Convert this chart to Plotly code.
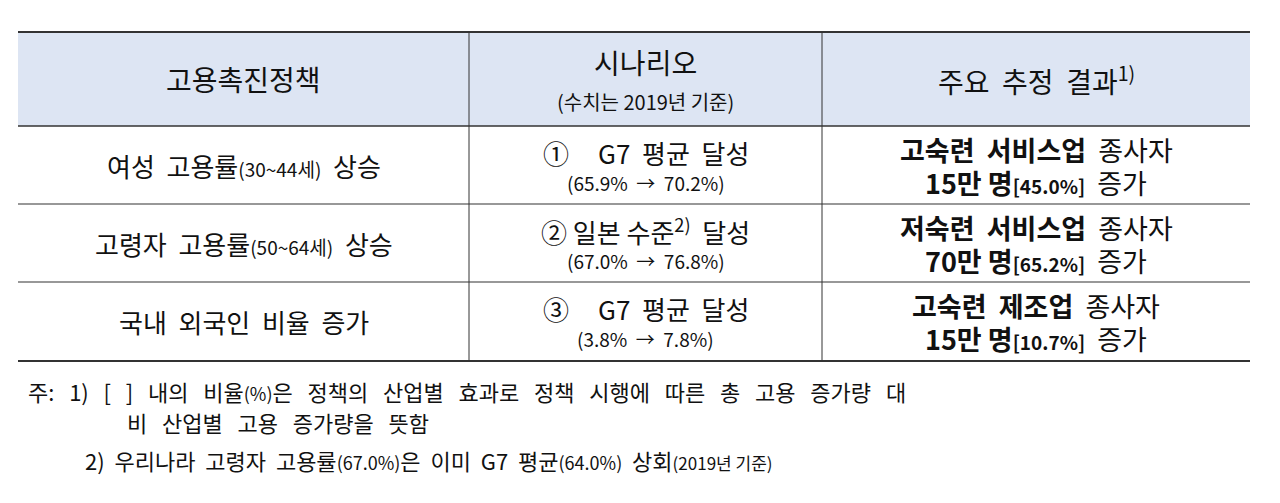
import plotly.graph_objects as go

S = "&nbsp;"
headers = ["고용촉진정책", "시나리오<br><span style='font-size:20px'>(수치는 2019년 기준)</span>",
           "주요  추정  결과<sup>1)</sup>"]
policies = ["여성  고용률<span style='font-size:19px'>(30~44세)</span>  상승",
            "고령자  고용률<span style='font-size:19px'>(50~64세)</span>  상승",
            "국내  외국인  비율  증가"]
scenarios = ["①" + S*5 + "G7" + S*2 + "평균" + S*2 + "달성",
             "② 일본 수준<sup>2)</sup>" + S*2 + "달성",
             "③" + S*5 + "G7" + S*2 + "평균" + S*2 + "달성"]
scenario_vals = ["(65.9%  →  70.2%)", "(67.0%  →  76.8%)", "(3.8%  →  7.8%)"]
results_l1 = ["<b>고숙련" + S*2 + "서비스업</b>" + S*2 + "종사자",
              "<b>저숙련" + S*2 + "서비스업</b>" + S*2 + "종사자",
              "<b>고숙련" + S*2 + "제조업</b>" + S*2 + "종사자"]
results_amt = ["15만 명", "70만 명", "15만 명"]
results_pct = ["[45.0%]", "[65.2%]", "[10.7%]"]
G = S * 3
notes = [G.join(["주:", "1)", "[", "]", "내의", "비율<span style='font-size:18px'>(%)</span>은", "정책의", "산업별", "효과로",
                 "정책", "시행에", "따른", "총", "고용", "증가량", "대"]),
         G.join(["비", "산업별", "고용", "증가량을", "뜻함"]),
         (S*2).join(["2)", "우리나라", "고령자", "고용률<span style='font-size:18px'>(67.0%)</span>은", "이미", "G7",
                     "평균<span style='font-size:18px'>(64.0%)</span>", "상회<span style='font-size:17px'>(2019년 기준)</span>"])]

F = "Noto Sans CJK KR"
o = 8
x0, x1, x2, x3 = 18 - o, 469 - o, 822 - o, 1250 - o
yh0, yh1 = 32 - o, 126 - o
rows = [126 - o, 204 - o, 282 - o, 361 - o]
cx = [(x0 + x1) / 2, (x1 + x2) / 2, (x2 + x3) / 2]

fig = go.Figure()
shapes = [dict(type="rect", x0=x0, x1=x3, y0=yh0, y1=yh1, fillcolor="#dde5f3", line_width=0, layer="below")]
for y, w in [(yh0, 2), (yh1, 1.5), (rows[1], 1.2), (rows[2], 1.2), (rows[3], 2)]:
    shapes.append(dict(type="line", x0=x0, x1=x3, y0=y, y1=y, line=dict(color="#333", width=w)))
for x in [x1, x2]:
    shapes.append(dict(type="line", x0=x, x1=x, y0=yh0, y1=rows[3], line=dict(color="#333", width=1)))

ann = []
def A(x, y, t, s=25, xa="center"):
    ann.append(dict(x=x, y=y, text=t, showarrow=False, xanchor=xa, yanchor="middle",
                    font=dict(family=F, size=s, color="#111")))

A(cx[0], 79 - o, headers[0], s=28)
A(cx[1], 79 - o, headers[1], s=28)
A(cx[2], 79 - o, headers[2], s=28)
for i in range(3):
    ym = (rows[i] + rows[i + 1]) / 2
    A(cx[0], ym, policies[i], s=26)
    A(cx[1], ym - 13, scenarios[i], s=26)
    A(cx[1], ym + 17, scenario_vals[i], s=19)
    A(cx[2], ym - 16, results_l1[i], s=27)
    A(cx[2], ym + 17, f"<b>{results_amt[i]}</b><span style='font-size:19px'><b>{results_pct[i]}</b></span>  증가", s=27)

A(26 - o, 391 - o, notes[0], s=22, xa="left")
A(125 - o, 422 - o, notes[1], s=22, xa="left")
A(83 - o, 460 - o, notes[2], s=22, xa="left")

fig.update_layout(width=1280, height=503, margin=dict(l=0, r=0, t=0, b=0),
                  paper_bgcolor="white", plot_bgcolor="white", shapes=shapes, annotations=ann,
                  xaxis=dict(range=[0, 1280], visible=False, fixedrange=True),
                  yaxis=dict(range=[503, 0], visible=False, fixedrange=True),
                  showlegend=False)
fig.write_html("out.html", config={"displayModeBar": False})
